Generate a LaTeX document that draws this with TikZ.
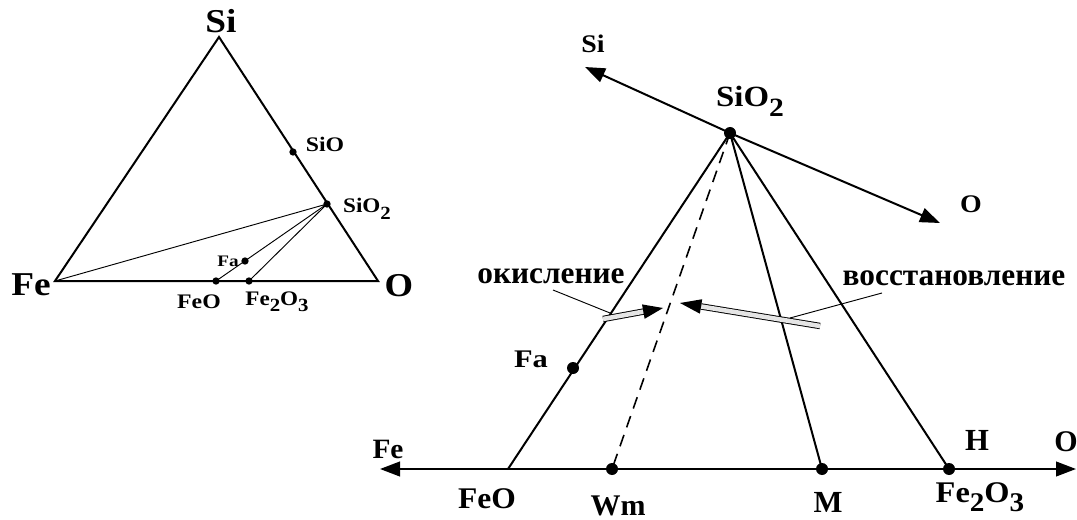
\documentclass[tikz,border=0pt]{standalone}
\usepackage{fontspec}
\setmainfont{Liberation Serif}
\usepackage{graphicx}
\usetikzlibrary{arrows.meta,calc}
\newcommand\lsub[1]{\raisebox{-0.32em}{\scalebox{0.9}{#1}}}
\newcommand\txt[3]{\scalebox{#2}[1]{\fontsize{#1}{#1}\selectfont\bfseries #3}}
\begin{document}
\begin{tikzpicture}[x=0.75pt,y=-0.75pt,
  lab/.style={inner sep=0pt, anchor=base},
  dotS/.style={circle, fill=black, inner sep=0pt, minimum size=5.5pt},
  dotL/.style={circle, fill=black, inner sep=0pt, minimum size=9pt},
  thickL/.style={line width=1.5pt},
  thinL/.style={line width=0.7pt},
  axisL/.style={line width=1.5pt},
  tip/.style={-{Triangle[length=15pt,width=11pt]}},
  hollow/.style={line width=0.7pt, double=gray!20, double distance=3.4pt}]
\useasboundingbox (0,0) rectangle (1077,520);

% ---------------- left triangle ----------------
\coordinate (lSi) at (219,37);
\coordinate (lFe) at (55,281);
\coordinate (lO) at (378,281);
\draw[thickL, line join=miter] (lSi) -- (lFe) -- (lO) -- cycle;
\node[dotS] (lSiO) at (293,152) {};
\node[dotS] (lSiO2) at (327,204) {};
\node[dotS] (lFa) at (245,261) {};
\node[dotS] (lFeO) at (216,281) {};
\node[dotS] (lFe2O3) at (249,281) {};
\draw[thinL] (lFe) -- (lSiO2.center) -- (lFeO.center);
\draw[thinL] (lSiO2.center) -- (lFe2O3.center);

\node[lab] (tlSi) at (221,33) {\txt{25pt}{1.12}{Si}};
\node[lab] (tlFe) at (31,295) {\txt{25pt}{1.12}{Fe}};
\node[lab] (tlO) at (399,296) {\txt{25pt}{1.1}{O}};
\node[lab] (tlSiO) at (325,152) {\txt{15.5pt}{1.15}{SiO}};
\node[lab] (tlSiO2) at (367,213) {\txt{15.5pt}{1.12}{SiO\lsub{2}}};
\node[lab] (tlFa) at (228,267) {\txt{12pt}{1.2}{Fa}};
\node[lab] (tlFeO) at (199,308) {\txt{15.5pt}{1.15}{FeO}};
\node[lab] (tlFe2O3) at (277,305) {\txt{15.5pt}{1.12}{Fe\lsub{2}O\lsub{3}}};

% ---------------- right diagram ----------------
\node[dotL] (SiO2) at (730,133) {};
\coordinate (SiEnd) at (585,67);
\coordinate (OEnd) at (940,223);
\draw[axisL, tip] (SiO2.center) -- (SiEnd);
\draw[axisL, tip] (SiO2.center) -- (OEnd);

\coordinate (FeO) at (508,469);
\coordinate (FeEnd) at (380,469);
\coordinate (OEnd2) at (1076,469);
\node[dotL] (Wm) at (612,469) {};
\node[dotL] (M) at (822,469) {};
\node[dotL] (Fe2O3) at (949,469) {};
\draw[axisL, tip] (FeO) -- (FeEnd);
\draw[axisL, tip] (FeO) -- (OEnd2);
\draw[axisL] (SiO2.center) -- (FeO);
\draw[axisL] (SiO2.center) -- (M.center);
\draw[axisL] (SiO2.center) -- (Fe2O3.center);
\draw[line width=1.2pt, dash pattern=on 9pt off 6pt] (SiO2.center) -- (Wm.center);
\node[dotL] (Fa) at (573,368) {};

% hollow arrows
\coordinate (a1t) at (603,319);
\coordinate (a1h) at (663,308);
\coordinate (a1b) at ($(a1h)!15pt!(a1t)$);
\draw[hollow] (a1t) -- (a1b);
\fill ($(a1b)!5.5pt!90:(a1h)$) -- (a1h) -- ($(a1b)!5.5pt!-90:(a1h)$) -- cycle;

\coordinate (a2t) at (820,326);
\coordinate (a2h) at (680,303);
\coordinate (a2b) at ($(a2h)!16pt!(a2t)$);
\draw[hollow] (a2t) -- (a2b);
\fill ($(a2b)!5.5pt!90:(a2h)$) -- (a2h) -- ($(a2b)!5.5pt!-90:(a2h)$) -- cycle;

% labels
\node[lab] (tok) at (551,283) {\txt{23.5pt}{1}{окисление}};
\node[lab] (tvo) at (954,285) {\txt{23.5pt}{1}{восстановление}};
\coordinate (k1) at (553,290);
\coordinate (k2) at (610,313);
\draw[thinL] (k1) -- (k2);
\coordinate (v1) at (882,293);
\coordinate (v2) at (790,318);
\draw[thinL] (v1) -- (v2);

\node[lab] (tSi) at (593,53) {\txt{19pt}{1.1}{Si}};
\node[lab] (tSiO2) at (750,107) {\txt{22pt}{1.12}{SiO\lsub{2}}};
\node[lab] (tO) at (971,213) {\txt{19pt}{1.1}{O}};
\node[lab] (tFa) at (531,367) {\txt{19pt}{1.2}{Fa}};
\node[lab] (tFe) at (388,458) {\txt{21pt}{1.05}{Fe}};
\node[lab] (tFeO) at (487,508) {\txt{22.5pt}{1.05}{FeO}};
\node[lab] (tWm) at (618,515) {\txt{22.5pt}{1}{Wm}};
\node[lab] (tM) at (828,512) {\txt{23pt}{1}{M}};
\node[lab] (tH) at (977,450) {\txt{23pt}{1}{H}};
\node[lab] (tO2) at (1066,451) {\txt{22.5pt}{1}{O}};
\node[lab] (tFe2O3) at (980,502) {\txt{22.5pt}{1.08}{Fe\lsub{2}O\lsub{3}}};
\end{tikzpicture}
\end{document}
